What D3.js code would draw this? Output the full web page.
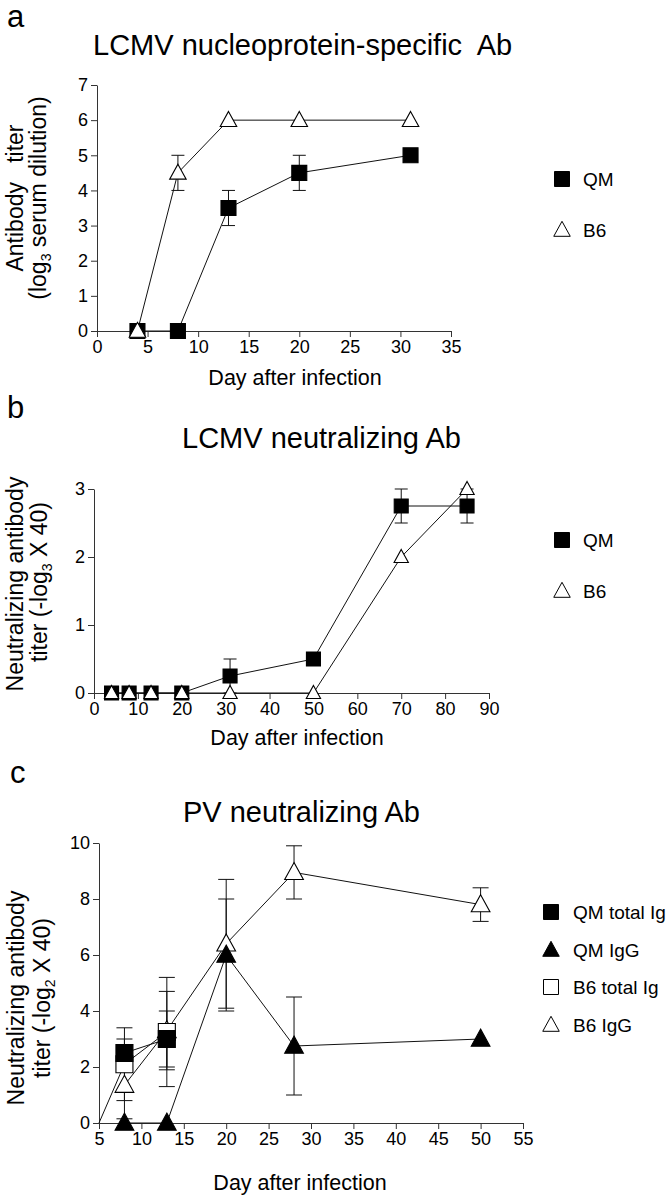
<!DOCTYPE html>
<html><head><meta charset="utf-8">
<script src="https://cdn.jsdelivr.net/npm/d3@7"></script>
<style>
body{margin:0;background:#fff}
text{font-family:"Liberation Sans", Arial, Helvetica, sans-serif; fill:#000}
</style>
</head><body>
<svg id="chart" width="672" height="1199" xmlns="http://www.w3.org/2000/svg"></svg>
<script>
// ---------- Panel a: LCMV nucleoprotein-specific Ab ----------
const aDays = [4, 8, 13, 20, 31];
const aQM = [0, 0, 3.5, 4.5, 5];
const aQMErr = [0, 0, 0.5, 0.5, 0];
const aB6 = [0, 4.5, 6, 6, 6];
const aB6Err = [0, 0.5, 0, 0, 0];
const aXTicks = [0, 5, 10, 15, 20, 25, 30, 35];
const aYTicks = [0, 1, 2, 3, 4, 5, 6, 7];

// ---------- Panel b: LCMV neutralizing Ab ----------
const bDays = [4, 8, 13, 20, 31, 50, 70, 85];
const bQM = [0, 0, 0, 0, 0.25, 0.5, 2.75, 2.75];
const bQMErr = [0, 0, 0, 0, 0.25, 0, 0.25, 0.25];
const bB6 = [0, 0, 0, 0, 0, 0, 2, 3];
const bB6Err = [0, 0, 0, 0, 0, 0, 0, 0];
const bXTicks = [0, 10, 20, 30, 40, 50, 60, 70, 80, 90];
const bYTicks = [0, 1, 2, 3];

// ---------- Panel c: PV neutralizing Ab ----------
const cQMTotalDays = [8, 13];
const cQMTotal = [2.5, 3.0];
const cQMTotalErr = [0.5, 1.0];
const cQMIgGDays = [8, 13, 20, 28, 50];
const cQMIgG = [0, 0, 6.0, 2.75, 3.0];
const cQMIgGErr = [0, 0, 2.0, 1.75, 0];
const cB6TotalDays = [5, 8, 13];
const cB6Total = [0, 2.1, 3.25];
const cB6TotalErr = [0, 1.3, 1.95];
const cB6TotalMarked = [false, true, true];
const cB6IgGDays = [8, 13, 20, 28, 50];
const cB6IgG = [1.35, 3.3, 6.4, 8.95, 7.8];
const cB6IgGErr = [1.2, 1.4, 2.3, 0.95, 0.6];
const cXTicks = [5, 10, 15, 20, 25, 30, 35, 40, 45, 50, 55];
const cYTicks = [0, 2, 4, 6, 8, 10];

const svg = d3.select("#chart");

function markerPath(shape, s) {
  if (shape === "square") {
    const h = s / 2;
    return `M${-h},${-h}H${h}V${h}H${-h}Z`;
  }
  const w = s * 1.1, ht = s * 1.0;
  return `M0,${-ht * 0.58}L${w / 2},${ht * 0.42}L${-w / 2},${ht * 0.42}Z`;
}

function panel(o) {
  const g = svg.append("g");
  const x = d3.scaleLinear().domain(o.xDomain).range(o.xRange);
  const y = d3.scaleLinear().domain(o.yDomain).range(o.yRange);

  const ax = g.append("g").attr("transform", `translate(0,${o.yRange[0]})`)
    .call(d3.axisBottom(x).tickValues(o.xTicks).tickFormat(d3.format("d")).tickSize(6).tickSizeOuter(0).tickPadding(3));
  const ay = g.append("g").attr("transform", `translate(${o.xRange[0]},0)`)
    .call(d3.axisLeft(y).tickValues(o.yTicks).tickFormat(d3.format("d")).tickSize(6).tickSizeOuter(0).tickPadding(3));
  [ax, ay].forEach(a => {
    a.selectAll("path,line").attr("stroke", "#333").attr("stroke-width", 1);
    a.selectAll("text").style("font-size", o.tickFont + "px").attr("fill", "#000");
  });

  o.series.forEach(s => {
    const pts = s.days.map((d, i) => ({d, v: s.vals[i]}));
    g.append("path").datum(pts)
      .attr("d", d3.line().x(p => x(p.d)).y(p => y(p.v)))
      .attr("fill", "none").attr("stroke", "#111").attr("stroke-width", 1);
  });
  o.series.forEach(s => {
    const pts = s.days.map((d, i) => ({d, v: s.vals[i], e: s.errs[i]}));
    pts.filter(p => p.e > 0).forEach(p => {
      const cx = x(p.d), y1 = y(p.v + p.e), y2 = y(Math.max(0, p.v - p.e));
      g.append("line").attr("x1", cx).attr("x2", cx).attr("y1", y1).attr("y2", y2)
        .attr("stroke", "#111").attr("stroke-width", 1);
      [y1, y2].forEach(yy => g.append("line").attr("x1", cx - o.cap / 2).attr("x2", cx + o.cap / 2)
        .attr("y1", yy).attr("y2", yy).attr("stroke", "#111").attr("stroke-width", 1));
    });
  });
  o.series.forEach(s => {
    const pts = s.days.map((d, i) => ({d, v: s.vals[i], m: s.marked ? s.marked[i] : true})).filter(p => p.m);
    g.selectAll(null).data(pts).enter().append("path")
      .attr("d", markerPath(s.shape, s.size || o.msize))
      .attr("transform", p => `translate(${x(p.d)},${y(p.v)})`)
      .attr("fill", s.fill).attr("stroke", "#000").attr("stroke-width", 1.1);
  });

  o.legend.forEach((l, i) => {
    const ly = o.legendY[i];
    g.append("path").attr("d", markerPath(l.shape, o.legendSize))
      .attr("transform", `translate(${o.legendX},${ly})`)
      .attr("fill", l.fill).attr("stroke", "#000").attr("stroke-width", 1);
    g.append("text").attr("x", o.legendTextX).attr("y", ly + 7)
      .style("font-size", "19px").text(l.label);
  });

  g.append("text").attr("x", o.letter[0]).attr("y", o.letter[1]).style("font-size", "31px").text(o.letterText);
  g.append("text").attr("x", o.title[0]).attr("y", o.title[1]).style("font-size", "29px")
    .style("white-space", "pre").text(o.titleText);
  g.append("text").attr("x", o.xlab[0]).attr("y", o.xlab[1]).attr("text-anchor", "middle")
    .style("font-size", "21.5px").text("Day after infection");
  o.ylab.forEach(l => {
    const t = g.append("text").attr("transform", `translate(${l.x},${l.cy}) rotate(-90)`)
      .attr("text-anchor", "middle").style("font-size", "23px").style("white-space", "pre");
    l.parts.forEach(p => {
      const ts = t.append("tspan").text(p.t);
      if (p.sub) ts.style("font-size", "14px").attr("dy", 5);
      else if (p.after) ts.attr("dy", -5);
    });
  });
}

panel({
  xDomain: [0, 35], xRange: [97, 451], yDomain: [0, 7], yRange: [331, 85],
  xTicks: aXTicks, yTicks: aYTicks, tickFont: 18, msize: 15, cap: 13,
  series: [
    {days: aDays, vals: aQM, errs: aQMErr, shape: "square", fill: "#000"},
    {days: aDays, vals: aB6, errs: aB6Err, shape: "triangle", fill: "#fff"}
  ],
  legend: [{shape: "square", fill: "#000", label: "QM"}, {shape: "triangle", fill: "#fff", label: "B6"}],
  legendX: 562, legendTextX: 583, legendY: [179, 230], legendSize: 15,
  letter: [7, 27], letterText: "a",
  title: [93, 55], titleText: "LCMV nucleoprotein-specific  Ab",
  xlab: [295, 385],
  ylab: [
    {x: 23, cy: 198, parts: [{t: "Antibody   titer"}]},
    {x: 46, cy: 198, parts: [{t: "(log"}, {t: "3", sub: true}, {t: " serum dilution)", after: true}]}
  ]
});

panel({
  xDomain: [0, 90], xRange: [94, 489], yDomain: [0, 3], yRange: [693, 489],
  xTicks: bXTicks, yTicks: bYTicks, tickFont: 18, msize: 14, cap: 13,
  series: [
    {days: bDays, vals: bQM, errs: bQMErr, shape: "square", fill: "#000"},
    {days: bDays, vals: bB6, errs: bB6Err, shape: "triangle", fill: "#fff", size: 13}
  ],
  legend: [{shape: "square", fill: "#000", label: "QM"}, {shape: "triangle", fill: "#fff", label: "B6"}],
  legendX: 562, legendTextX: 583, legendY: [540, 591], legendSize: 15,
  letter: [7, 418], letterText: "b",
  title: [182, 448], titleText: "LCMV neutralizing Ab",
  xlab: [297, 745],
  ylab: [
    {x: 23, cy: 584, parts: [{t: "Neutralizing antibody"}]},
    {x: 47, cy: 582, parts: [{t: "titer (-log"}, {t: "3", sub: true}, {t: " X 40)", after: true}]}
  ]
});

panel({
  xDomain: [5, 55], xRange: [99, 523], yDomain: [0, 10], yRange: [1123, 843],
  xTicks: cXTicks, yTicks: cYTicks, tickFont: 18, msize: 17, cap: 16,
  series: [
    {days: cB6IgGDays, vals: cB6IgG, errs: cB6IgGErr, shape: "triangle", fill: "#fff"},
    {days: cQMIgGDays, vals: cQMIgG, errs: cQMIgGErr, shape: "triangle", fill: "#000"},
    {days: cB6TotalDays, vals: cB6Total, errs: cB6TotalErr, marked: cB6TotalMarked, shape: "square", fill: "#fff"},
    {days: cQMTotalDays, vals: cQMTotal, errs: cQMTotalErr, shape: "square", fill: "#000"}
  ],
  legend: [
    {shape: "square", fill: "#000", label: "QM total Ig"},
    {shape: "triangle", fill: "#000", label: "QM IgG"},
    {shape: "square", fill: "#fff", label: "B6 total Ig"},
    {shape: "triangle", fill: "#fff", label: "B6 IgG"}
  ],
  legendX: 551, legendTextX: 573, legendY: [912, 950, 987, 1025], legendSize: 15,
  letter: [10, 783], letterText: "c",
  title: [183, 822], titleText: "PV neutralizing Ab",
  xlab: [300, 1190],
  ylab: [
    {x: 24, cy: 998, parts: [{t: "Neutralizing antibody"}]},
    {x: 50, cy: 998, parts: [{t: "titer (-log"}, {t: "2", sub: true}, {t: " X 40)", after: true}]}
  ]
});
</script>
</body></html>
